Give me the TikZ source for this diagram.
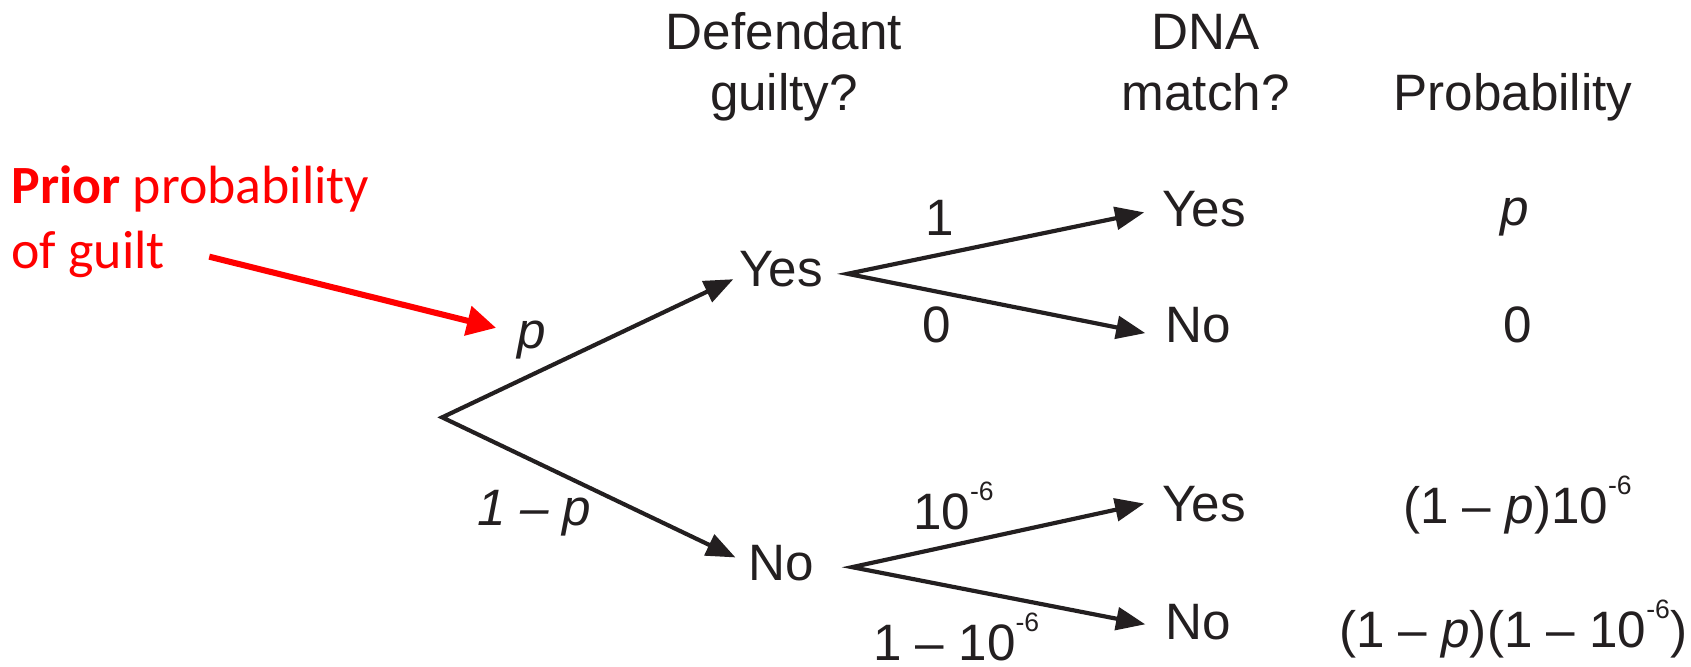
\documentclass[tikz,border=0pt]{standalone}
\usepackage{fontspec}
\setmainfont{Liberation Sans}
\newfontfamily\calibri{Carlito}
\usetikzlibrary{arrows.meta}
\definecolor{ink}{RGB}{35,31,32}
\definecolor{hired}{RGB}{255,0,0}
\newcommand\supm[1]{\raisebox{7.6pt}{\fontsize{7}{7}\selectfont #1}}
\begin{document}
\begin{tikzpicture}[x=0.01cm,y=-0.01cm,
  txt/.style={inner sep=0pt, text=ink, font=\fontsize{13.5}{15.9}\selectfont},
  bothtips/.style={draw=ink, line width=1.1pt, line join=miter,
    {Triangle[length=0.27cm,width=0.21cm]}-{Triangle[length=0.27cm,width=0.21cm]}},
  redarrow/.style={draw=hired, line width=1.6pt, -{Triangle[length=0.27cm,width=0.27cm]}}
]
\useasboundingbox[fill=white] (0,0) rectangle (1568,618);

% headers (base anchor = baseline of the last line)
\node[txt, align=center, anchor=base] (h1) at (727,102) {Defendant\\guilty?};
\node[txt, align=center, anchor=base] (h2) at (1118,102) {DNA\\match?};
\node[txt, anchor=base] (h3) at (1403,102) {Probability};

% annotation
\node[inner sep=0pt, text=hired, font=\calibri\fontsize{14.2}{17.2}\selectfont,
      align=left, anchor=base west] (prior) at (10,249) {\textbf{Prior} probability\\of guilt};

% tree nodes
\coordinate (root) at (410,387);
\node[txt, anchor=base west] (yes1) at (685,266) {Yes};
\node[txt, anchor=base west] (no1) at (693,538) {No};
\node[txt, anchor=base west] (yes2) at (1077,210) {Yes};
\node[txt, anchor=base west] (no2) at (1080,318) {No};
\node[txt, anchor=base west] (yes3) at (1077,484) {Yes};
\node[txt, anchor=base west] (no3) at (1080,593) {No};

% branches
\draw[bothtips] ([shift={(-5,9)}]yes1.west) -- (root) -- ([shift={(-11,-5)}]no1.west);
\draw[bothtips] ([shift={(-16,3)}]yes2.west) -- ([shift={(22,4)}]yes1.east) -- ([shift={(-18,7)}]no2.west);
\draw[bothtips] ([shift={(-16,-1)}]yes3.west) -- ([shift={(35,4)}]no1.east) -- ([shift={(-18,2)}]no3.west);

% branch labels
\node[txt, anchor=base] (lp) at (493,323) {\textit{p}};
\node[txt, anchor=base west] (lq) at (442,487) {\textit{1 – p}};
\node[txt, anchor=base] (l1) at (871,218) {1};
\node[txt, anchor=base] (l0) at (869,318) {0};
\node[txt, anchor=base west] (l6) at (846,491) {10\supm{-6}};
\node[txt, anchor=base west] (l7) at (809,612) {1 – 10\supm{-6}};

% probabilities
\node[txt, anchor=base] (pa) at (1405,209) {\textit{p}};
\node[txt, anchor=base] (pb) at (1407,318) {0};
\node[txt, anchor=base] (pc) at (1407,485) {(1 – \textit{p})10\supm{-6}};
\node[txt, anchor=base] (pd) at (1403,600) {(1 – \textit{p})(1 – 10\supm{-6})};

% red arrow
\draw[redarrow] ([shift={(184,-11)}]prior.base west) -- ([shift={(-33,-19)}]lp.base);
\end{tikzpicture}
\end{document}
